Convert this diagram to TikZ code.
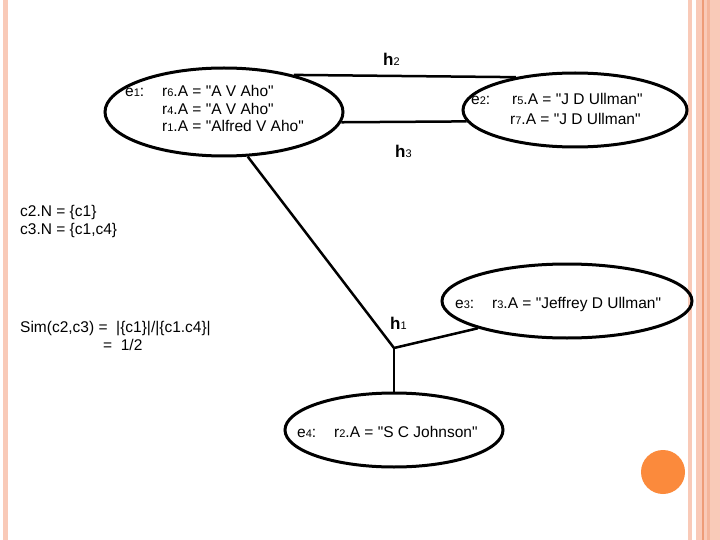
\documentclass[tikz,border=0pt]{standalone}
\usepackage{fontspec}
\newfontfamily\arialf{Liberation Sans}
\usetikzlibrary{shapes.geometric}
\definecolor{pinkband}{HTML}{F9CAB8}
\definecolor{pinkline}{HTML}{EE9C78}
\definecolor{dotcol}{HTML}{FB8A3C}
\newcommand\dg[1]{{\fontsize{11}{12}\selectfont #1}}
\newcommand\hlab[2]{{\fontsize{17}{18}\selectfont\bfseries #1}\dg{#2}}
\begin{document}
\begin{tikzpicture}[x=1pt,y=-1pt,
  ent/.style={draw, ellipse, line width=3pt, inner sep=0pt},
  conn/.style={line width=2.5pt},
  txt/.style={anchor=base west, inner sep=0pt, font=\arialf\fontsize{15.5}{18}\selectfont}]
\fill[white] (0,0) rectangle (720,540);
\useasboundingbox (0,0) rectangle (720,540);
% decorative bands
\fill[pinkband] (3,0) rectangle (8,540);
\fill[pinkband] (688,0) rectangle (692,540);
\fill[pinkband] (696,0) rectangle (720,540);
\fill[pinkline!45!pinkband] (707,0) rectangle (710,540);
\fill[pinkline] (702.3,0) rectangle (703.5,540);
\fill[dotcol] (663,472) circle[radius=22pt];
% entities
\node[ent, minimum width=238pt, minimum height=88pt] (e1) at (224,112) {};
\node[ent, minimum width=224pt, minimum height=74pt] (e2) at (575,110) {};
\node[ent, minimum width=250pt, minimum height=74pt] (e3) at (567,301) {};
\node[ent, minimum width=218pt, minimum height=74pt] (e4) at (394,430) {};
% connectors
\coordinate (j1) at (394,348);
\draw[conn] (e1.28) -- (e2.151);
\draw[conn] (e1.-5) -- (e2.186);
\draw[conn] (e1.-62) -- (j1) -- (e3.197);
\draw[conn] (j1) -- (e4.north);
% edge labels
\node[txt] (lh2) at (383,66) {\hlab{h}{2}};
\node[txt] (lh3) at (395,158) {\hlab{h}{3}};
\node[txt] (lh1) at (390,329) {\hlab{h}{1}};
% e1 text
\node[txt] (t1a) at (125,97) {e\dg{1}:};
\node[txt] (t1b) at (162,97) {r\dg{6}.A = "A V Aho"};
\node[txt] (t1c) at (162,114.5) {r\dg{4}.A = "A V Aho"};
\node[txt] (t1d) at (162,132) {r\dg{1}.A = "Alfred V Aho"};
% e2 text
\node[txt] (t2a) at (471,105) {e\dg{2}:};
\node[txt] (t2b) at (512,105) {r\dg{5}.A = "J D Ullman"};
\node[txt] (t2c) at (510,125) {r\dg{7}.A = "J D Ullman"};
% e3 text
\node[txt] (t3a) at (455,308) {e\dg{3}:};
\node[txt] (t3b) at (492,308) {r\dg{3}.A = "Jeffrey D Ullman"};
% e4 text
\node[txt] (t4a) at (297,437) {e\dg{4}:};
\node[txt] (t4b) at (334,437) {r\dg{2}.A = "S C Johnson"};
% side notes
\node[txt] (n1) at (20,217) {c2.N = \{c1\}};
\node[txt] (n2) at (20,235) {c3.N = \{c1,c4\}};
\node[txt] (n3) at (20,332) {Sim(c2,c3) = \ |\{c1\}|/|\{c1.c4\}|};
\node[txt] (n4) at (103,350) {= \ 1/2};
\end{tikzpicture}
\end{document}
